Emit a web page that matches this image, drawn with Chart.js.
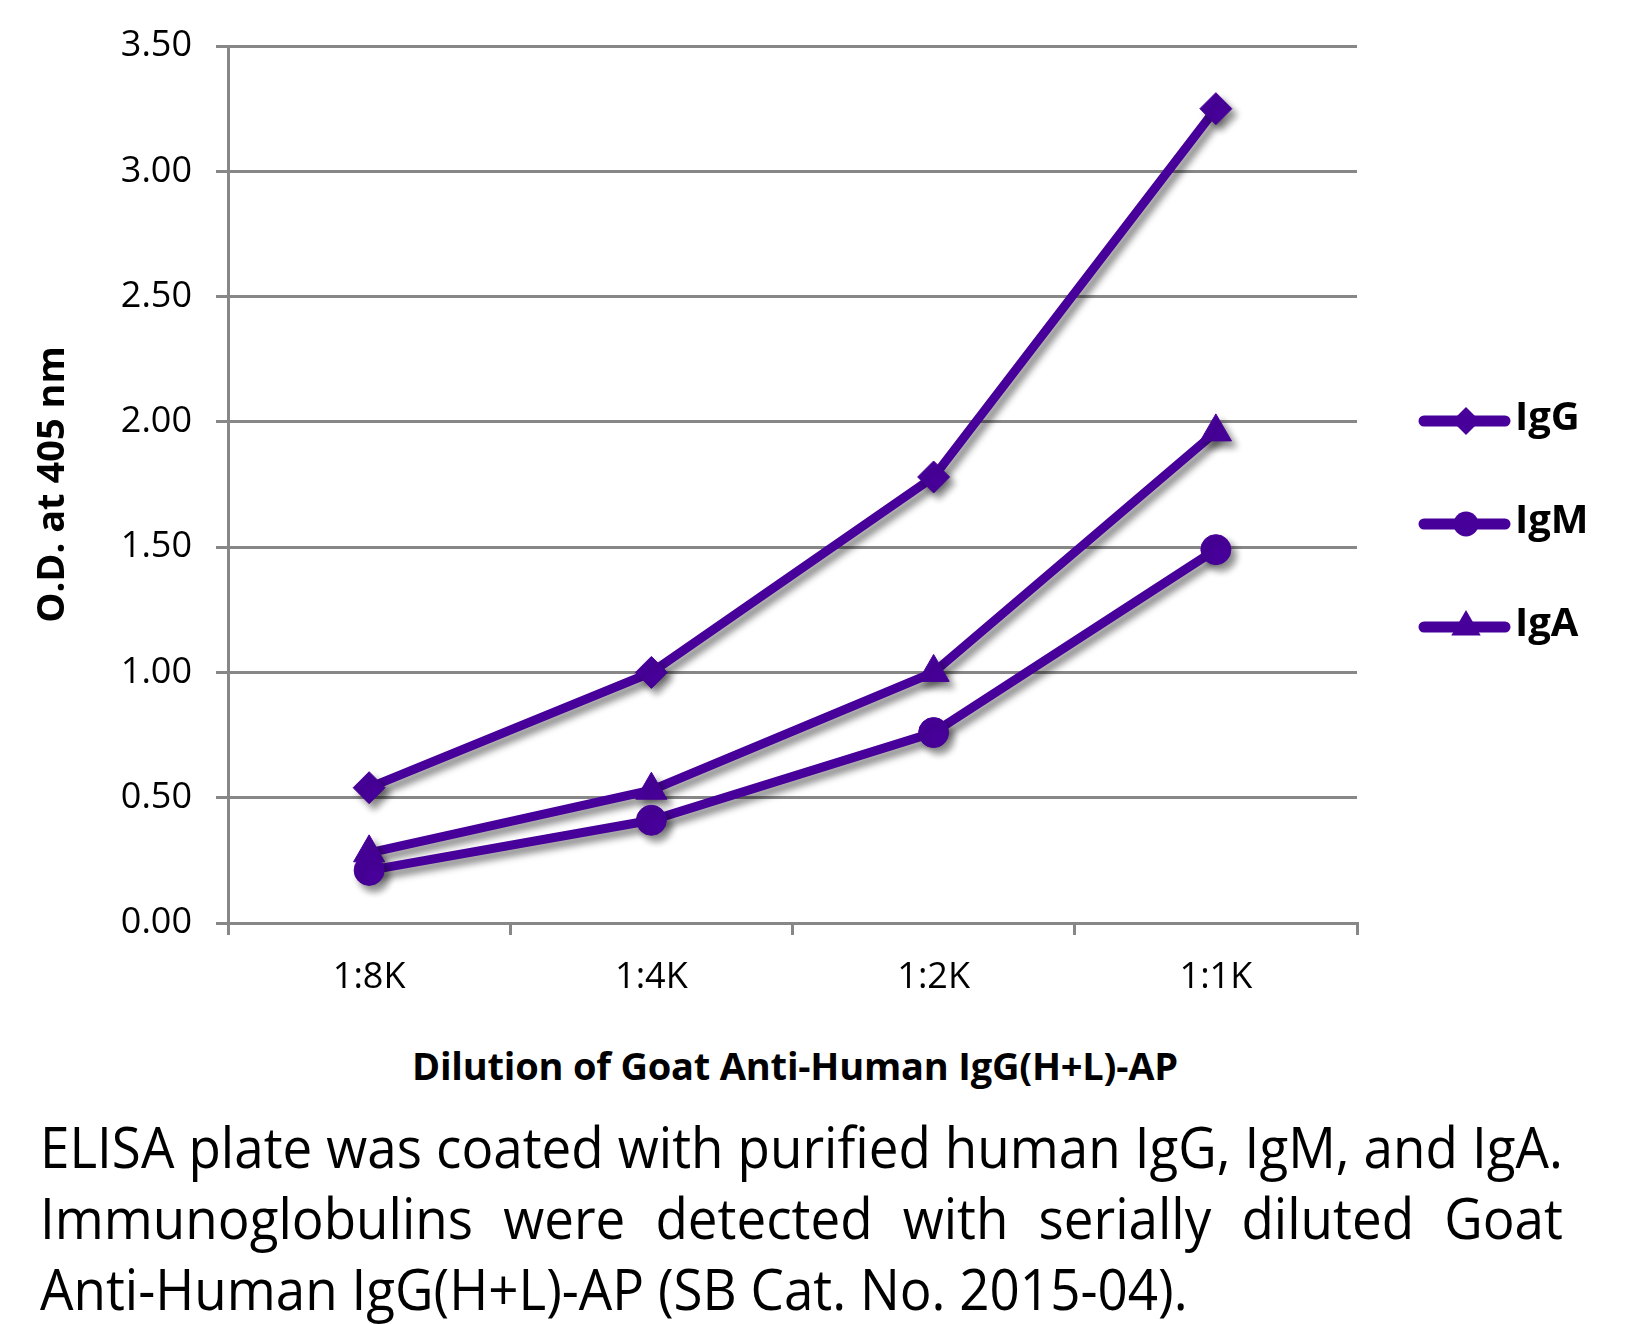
<!DOCTYPE html>
<html>
<head>
<meta charset="utf-8">
<script src="https://cdn.jsdelivr.net/npm/chart.js@4.4.1/dist/chart.umd.min.js"></script>
<style>
    body { margin: 0; background: #fff; }
    #wrap { position: relative; width: 1626px; height: 1324px; overflow: hidden; }
    #chart { position: absolute; left: 0; top: 0; }
    #xtitle {
        position: absolute; left: 0; top: 1046px; width: 1590px;
        text-align: center; font: bold 38px "Open Sans"; line-height: 38px;
        letter-spacing: -0.2px;
    }
    #caption {
        position: absolute; left: 40px; top: 1111px; width: 1600px;
        transform-origin: 0 0;
        font: 56px "Open Sans"; line-height: 71px; color: #000;
    }
    .j { text-align: justify; text-align-last: justify; }
</style>
</head>
<body>
<div id="wrap">
    <canvas id="chart" width="1626" height="1010"></canvas>
    <div id="xtitle">Dilution of Goat Anti-Human IgG(H+L)-AP</div>
    <div id="caption">
        <div class="j" id="line1">ELISA plate was coated with purified human IgG, IgM, and IgA.</div>
        <div class="j">Immunoglobulins were detected with serially diluted Goat</div>
        <div>Anti-Human IgG(H+L)-AP (SB Cat. No. 2015-04).</div>
    </div>
</div>
<script>
const dilutions = ["1:8K", "1:4K", "1:2K", "1:1K"];
const seriesNames = ["IgG", "IgM", "IgA"];
const igG = [0.54, 1.00, 1.78, 3.25];
const igM = [0.21, 0.41, 0.76, 1.49];
const igA = [0.28, 0.53, 1.00, 1.96];
const yTicks = [0, 0.5, 1, 1.5, 2, 2.5, 3, 3.5];

const purple = "#470099";
const gridGray = "#878787";
const markers = ["rectRot", "circle", "triangle"];
const radii = [16, 15, 18];

// ajustar el texto del pie al ancho de 1520px
(function fitCaption() {
    const cap = document.getElementById("caption");
    const probe = document.createElement("span");
    probe.style.font = '56px "Open Sans"';
    probe.style.whiteSpace = "nowrap";
    probe.textContent = document.getElementById("line1").textContent;
    document.body.appendChild(probe);
    const w = probe.getBoundingClientRect().width;
    probe.remove();
    const sc = 1520 / w;
    cap.style.width = (w + 3) + "px";
    cap.style.transform = "scaleX(" + sc + ")";
})();

// sombra gris debajo de las lineas
const shadowPlugin = {
    id: "shadow",
    beforeDatasetsDraw(chart) {
        const c = chart.ctx;
        c.save();
        c.shadowColor = "rgba(0,0,0,0.45)";
        c.shadowBlur = 7;
        c.shadowOffsetX = 5;
        c.shadowOffsetY = 6;
    },
    afterDatasetsDraw(chart) {
        chart.ctx.restore();
    },
};

function drawMarker(c, style, x, y, r) {
    c.beginPath();
    if (style === "rectRot") {
        c.moveTo(x, y - r); c.lineTo(x + r, y); c.lineTo(x, y + r); c.lineTo(x - r, y);
    } else if (style === "circle") {
        c.arc(x, y, r, 0, Math.PI * 2);
    } else {
        c.moveTo(x, y - r);
        c.lineTo(x + r * 0.866, y + r / 2);
        c.lineTo(x - r * 0.866, y + r / 2);
    }
    c.closePath();
    c.fill();
}

// leyenda con linea y marcador, a la derecha
const legendPlugin = {
    id: "lineLegend",
    afterDraw(chart) {
        const c = chart.ctx;
        c.save();
        chart.data.datasets.forEach((ds, i) => {
            const y = 421 + i * 103;
            c.strokeStyle = ds.borderColor;
            c.fillStyle = ds.borderColor;
            c.lineWidth = 11;
            c.lineCap = "round";
            c.beginPath();
            c.moveTo(1424, y);
            c.lineTo(1505, y);
            c.stroke();
            drawMarker(c, ds.pointStyle, 1466, y, [14, 12.5, 17][i]);
            c.fillStyle = "#000";
            c.font = "bold 40px 'Open Sans'";
            c.textBaseline = "middle";
            c.textAlign = "left";
            c.fillText(ds.label, 1515, y - 2);
        });
        c.restore();
    },
};

const ctx = document.getElementById("chart").getContext("2d");
new Chart(ctx, {
    type: "line",
    data: {
        labels: dilutions,
        datasets: [igG, igM, igA].map((vals, i) => ({
            label: seriesNames[i],
            data: vals,
            borderColor: purple,
            backgroundColor: purple,
            borderWidth: 9,
            pointStyle: markers[i],
            pointRadius: radii[i],
            pointBorderWidth: 1,
            pointBackgroundColor: purple,
            pointBorderColor: purple,
            tension: 0,
            clip: false,
        })),
    },
    options: {
        responsive: false,
        animation: false,
        devicePixelRatio: 1,
        layout: { padding: { top: 46, right: 269, bottom: 0, left: 0 } },
        plugins: {
            legend: { display: false },
            tooltip: { enabled: false },
        },
        scales: {
            x: {
                offset: true,
                afterFit: (s) => { s.height = 87; },
                grid: {
                    offset: true,
                    drawOnChartArea: false,
                    tickLength: 12,
                    color: gridGray,
                    lineWidth: 3,
                },
                border: { color: gridGray, width: 3 },
                ticks: {
                    color: "#000",
                    padding: 21,
                    font: { family: "Open Sans", size: 36 },
                },
            },
            y: {
                min: 0,
                max: 3.5,
                afterFit: (s) => { s.width = 228; },
                afterBuildTicks: (s) => { s.ticks = yTicks.map((v) => ({ value: v })); },
                grid: { tickLength: 12, color: gridGray, lineWidth: 3 },
                border: { color: gridGray, width: 3 },
                ticks: {
                    color: "#000",
                    padding: 24,
                    font: { family: "Open Sans", size: 36 },
                    callback: (v) => Number(v).toFixed(2),
                },
                title: {
                    display: true,
                    text: "O.D. at 405 nm",
                    color: "#000",
                    font: { family: "Open Sans", size: 38, weight: "bold" },
                    padding: { top: 30, bottom: 0 },
                },
            },
        },
    },
    plugins: [shadowPlugin, legendPlugin],
});
</script>
</body>
</html>
